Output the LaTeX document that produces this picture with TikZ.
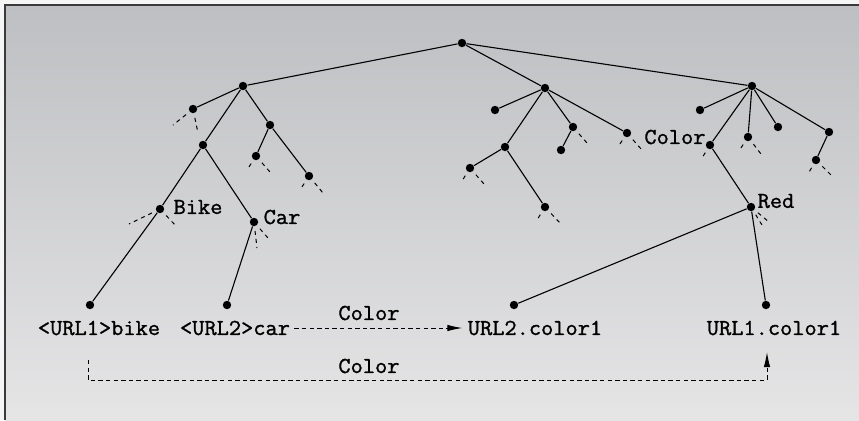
\documentclass[tikz,border=0pt]{standalone}
\usepackage{fontspec}
\newfontfamily\courf{Latin Modern Mono}[FakeStretch=1.04,FakeBold=1.2]
\usetikzlibrary{arrows.meta}
\definecolor{bgtop}{RGB}{190,191,194}
\definecolor{bgbot}{RGB}{229,229,230}
\definecolor{framec}{RGB}{58,58,58}
\tikzset{
  dot/.style={circle,fill=black,inner sep=0pt,minimum size=4.2pt},
  edge/.style={line width=0.55pt},
  stub/.style={line width=0.5pt,dash pattern=on 2pt off 2pt,shorten <=2.2pt},
  lbl/.style={font=\fontsize{11.4}{13}\courf,inner sep=0pt},
  arr/.style={line width=0.5pt,dash pattern=on 2.2pt off 1.6pt,-{Latex[length=7.5pt,width=3.2pt]}}
}
\begin{document}
\begin{tikzpicture}[x=0.5pt,y=-0.5pt]
\useasboundingbox (0,0) rectangle (859,420);
\fill[white!96!black] (0,0) rectangle (859,420);
\shade[top color=bgtop,bottom color=bgbot] (5,5) rectangle (859,420);
\draw[framec,line width=1pt] (5,420) -- (5,5) -- (859,5);
% nodes
\node[dot] (r) at (462,43) {};
\node[dot] (A) at (243,86) {};
\node[dot] (B) at (545,88) {};
\node[dot] (C) at (752,86) {};
\node[dot] (A1) at (193,109) {};
\node[dot] (A2) at (203,145) {};
\node[dot] (A3) at (270,125) {};
\node[dot] (A3a) at (256,156) {};
\node[dot] (A3b) at (309,176) {};
\node[dot] (bike) at (160,209) {};
\node[dot] (car) at (254,222) {};
\node[dot] (l1) at (90,305) {};
\node[dot] (l2) at (227,305) {};
\node[dot] (B1) at (495,110) {};
\node[dot] (B2) at (505,147) {};
\node[dot] (B3) at (573,127) {};
\node[dot] (B4) at (627,133) {};
\node[dot] (B2a) at (470,168) {};
\node[dot] (B2b) at (545,207) {};
\node[dot] (B3a) at (561,150) {};
\node[dot] (C1) at (700,110) {};
\node[dot] (C2) at (710,145) {};
\node[dot] (C3) at (748,137) {};
\node[dot] (C4) at (778,127) {};
\node[dot] (C5) at (829,132) {};
\node[dot] (C5a) at (816,160) {};
\node[dot] (red) at (751,207) {};
\node[dot] (l3) at (514,305) {};
\node[dot] (l4) at (766,305) {};
% labels
\node[lbl] (tbike) at (198,207) {Bike};
\node[lbl] (tcar) at (282,217) {Car};
\node[lbl] (tred) at (776,201) {Red};
\node[lbl] (tcol) at (675,137) {Color};
\node[lbl] (t1) at (99,328) {<URL1>bike};
\node[lbl] (t2) at (235,328) {<URL2>car};
\node[lbl] (t3) at (535,328) {URL2.color1};
\node[lbl] (t4) at (774,328) {URL1.color1};
\node[lbl] (c1) at (369,313) {Color};
\node[lbl] (c2) at (369,366) {Color};
% edges
\draw[edge] (r) -- (A) (r) -- (B) (r) -- (C);
\draw[edge] (A) -- (A1) (A) -- (A2) (A) -- (A3);
\draw[edge] (A2) -- (bike) (A2) -- (car);
\draw[edge] (A3) -- (A3a) (A3) -- (A3b);
\draw[edge] (bike) -- (l1) (car) -- (l2);
\draw[edge] (B) -- (B1) (B) -- (B2) (B) -- (B3) (B) -- (B4);
\draw[edge] (B2) -- (B2a) (B2) -- (B2b) (B3) -- (B3a);
\draw[edge] (C) -- (C1) (C) -- (C2) (C) -- (C3) (C) -- (C4) (C) -- (C5);
\draw[edge] (C5) -- (C5a) (C2) -- (red);
\draw[edge] (red) -- (l3) (red) -- (l4);
% stubs
\draw[stub] (A1) -- (173,125); \draw[stub] (A1) -- (198,133);
\draw[stub] (A3a) -- (247,170); \draw[stub] (A3a) -- (270,172);
\draw[stub] (A3b) -- (300,190); \draw[stub] (A3b) -- (323,193);
\draw[stub] (bike) -- (129,224); \draw[stub] (bike) -- (177,227);
\draw[stub] (car) -- (257,248); \draw[stub] (car) -- (268,238);
\draw[stub] (B2a) -- (462,181); \draw[stub] (B2a) -- (484,184);
\draw[stub] (B2b) -- (537,220); \draw[stub] (B2b) -- (560,223);
\draw[stub] (B3) -- (587,143);
\draw[stub] (B4) -- (618,147); \draw[stub] (B4) -- (642,150);
\draw[stub] (C2) -- (702,158);
\draw[stub] (C3) -- (739,151); \draw[stub] (C3) -- (761,154);
\draw[stub] (C5a) -- (808,174); \draw[stub] (C5a) -- (832,176);
\draw[stub] (red) -- (762,225); \draw[stub] (red) -- (769,222);
% arrows
\draw[arr] (t2.east) ++(4,0) -- ([xshift=-2.5pt]t3.west);
\coordinate (b1) at (88,360);
\coordinate (b2) at (767,352);
\draw[arr] (b1) -- ++(0,20) -| (b2);
\end{tikzpicture}
\end{document}
